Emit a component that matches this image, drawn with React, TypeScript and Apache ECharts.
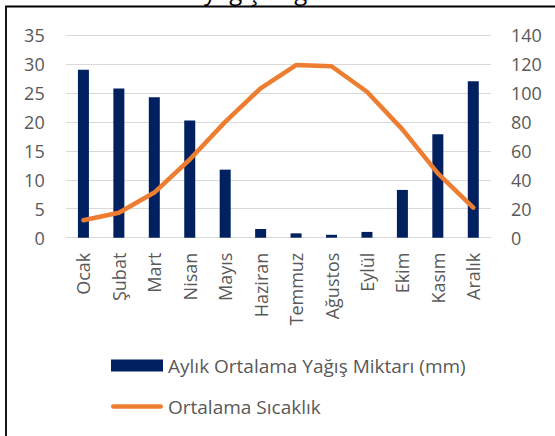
import React, { useEffect, useRef } from "react";
import * as echarts from "echarts";

const months = ["Ocak", "Şubat", "Mart", "Nisan", "Mayıs", "Haziran", "Temmuz", "Ağustos", "Eylül", "Ekim", "Kasım", "Aralık"];
const precipitation = [116, 103, 97, 81, 47, 6, 3, 2, 4, 33, 71.5, 108];
const temperature = [3.0, 4.3, 7.8, 13.5, 20.0, 25.8, 29.8, 29.6, 25.2, 18.7, 11.1, 5.2];
const leftTicks = { min: 0, max: 35, interval: 5 };
const rightTicks = { min: 0, max: 140, interval: 20 };
const precipName = "Aylık Ortalama Yağış Miktarı (mm)";
const tempName = "Ortalama Sıcaklık";
const titleText = "yağış değerleri";

const FONT = "'Open Sans', 'Noto Sans', sans-serif";
const TXT = "#595959";
const LINE_ICON = "path://M2.5,0 H53.5 A2.5,2.5 0 0 1 53.5,5 H2.5 A2.5,2.5 0 0 1 2.5,0 Z";

export default function App() {
  const ref = useRef<HTMLDivElement>(null);
  useEffect(() => {
    if (!ref.current) return;
    const chart = echarts.init(ref.current, null, { renderer: "svg" });
    chart.setOption({
      animation: false,
      backgroundColor: "#ffffff",
      textStyle: { fontFamily: FONT },
      graphic: [
        {
          type: "rect",
          shape: { x: 6, y: 6.5, width: 700, height: 600 },
          style: { fill: "none", stroke: "#000000", lineWidth: 1.8 },
          silent: true,
        },
        {
          type: "text",
          x: 204,
          y: -10,
          style: {
            text: titleText,
            font: `24px ${FONT}`,
            fill: "#000000",
            textAlign: "left",
            textVerticalAlign: "middle",
          },
          silent: true,
        },
      ],
      grid: {
        left: 65.7,
        right: 64,
        top: 35,
        bottom: 198.3,
        containLabel: false,
        outerBoundsMode: "none",
      },
      legend: {
        orient: "vertical",
        left: 106,
        top: 351,
        padding: 5,
        itemWidth: 52,
        itemHeight: 12,
        itemGap: 22,
        symbolKeepAspect: true,
        textStyle: { fontSize: 19, color: TXT, fontFamily: FONT },
        data: [
          { name: precipName, icon: "rect" },
          { name: tempName, icon: LINE_ICON, itemStyle: { color: "#ED7D31" } },
        ],
      },
      xAxis: {
        type: "category",
        data: months,
        axisLine: { show: true, lineStyle: { color: "#d9d9d9", width: 1 } },
        axisTick: { show: false },
        axisLabel: { rotate: 90, margin: 15, fontSize: 18, color: TXT, fontFamily: FONT, interval: 0 },
      },
      yAxis: [
        {
          type: "value",
          ...leftTicks,
          axisLine: { show: false },
          axisTick: { show: false },
          splitLine: { show: true, lineStyle: { color: "#d9d9d9", width: 1 } },
          axisLabel: { fontSize: 18, color: TXT, margin: 21, fontFamily: FONT },
        },
        {
          type: "value",
          ...rightTicks,
          position: "right",
          axisLine: { show: false },
          axisTick: { show: false },
          splitLine: { show: false },
          axisLabel: { fontSize: 18, color: TXT, margin: 20, fontFamily: FONT },
        },
      ],
      series: [
        {
          name: precipName,
          type: "bar",
          yAxisIndex: 1,
          data: precipitation,
          barWidth: 11,
          itemStyle: { color: "#002060" },
        },
        {
          name: tempName,
          type: "line",
          yAxisIndex: 0,
          data: temperature,
          symbol: "none",
          lineStyle: { color: "#ED7D31", width: 4.5, cap: "round", join: "round" },
          itemStyle: { color: "#ED7D31" },
        },
      ],
    });
    return () => chart.dispose();
  }, []);
  return (
    <div
      ref={ref}
      style={{ position: "absolute", left: 0, top: 0, width: 555, height: 436 }}
    />
  );
}
